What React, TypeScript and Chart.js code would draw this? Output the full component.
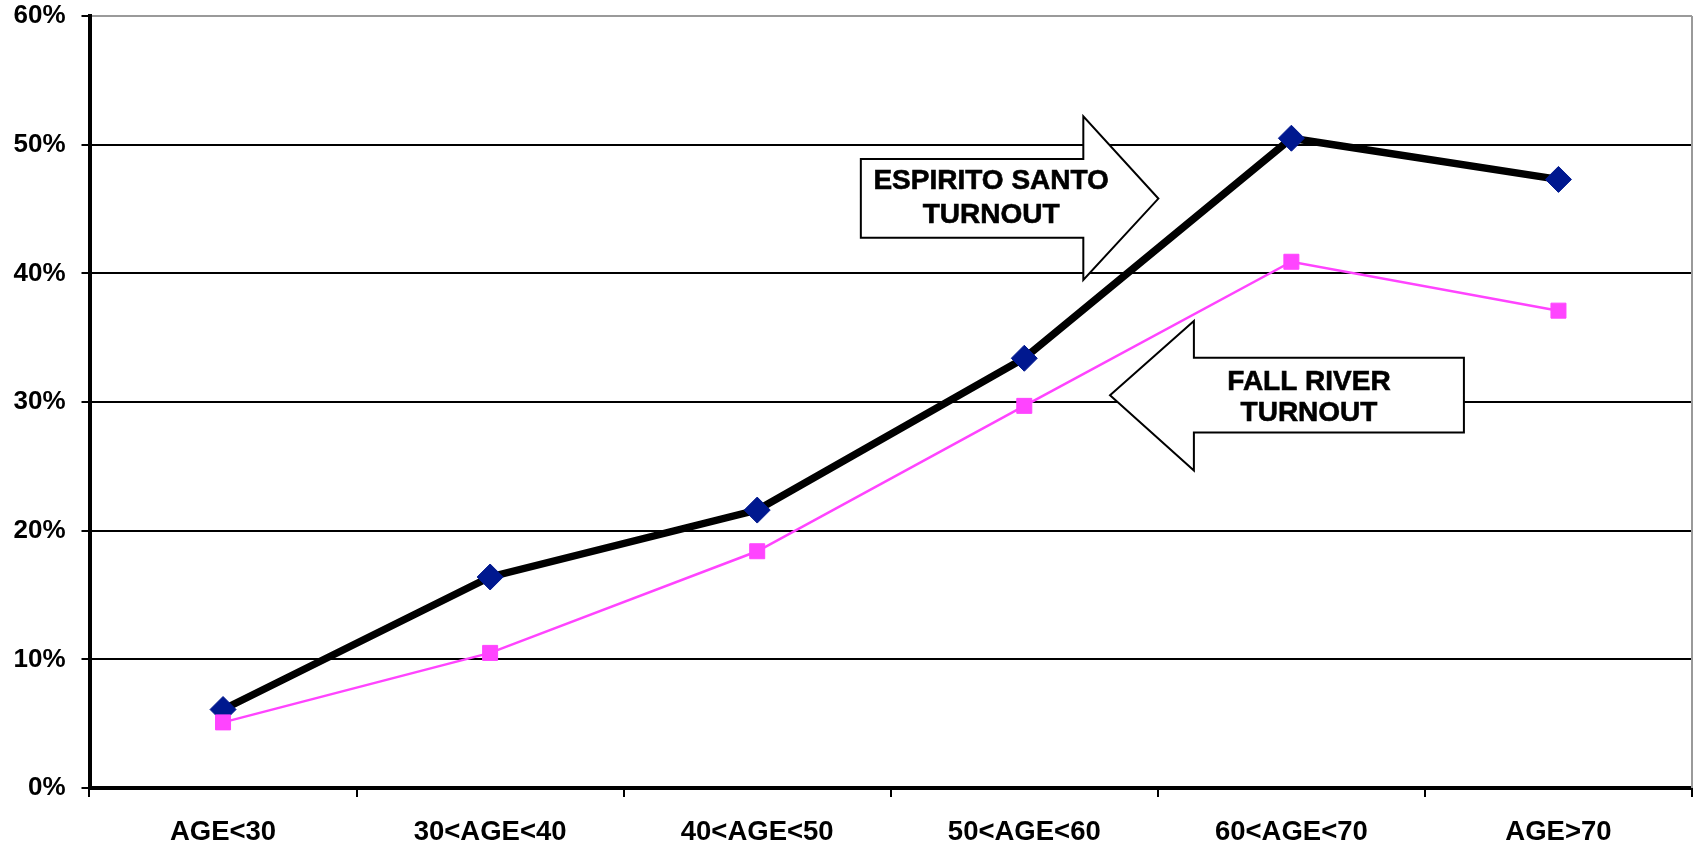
import React, { useEffect, useRef } from "react";
import { Chart, registerables } from "chart.js";

Chart.register(...registerables);

// ---- data ----
const categories = ["AGE<30", "30<AGE<40", "40<AGE<50", "50<AGE<60", "60<AGE<70", "AGE>70"];
const espiritoSanto = [6.1, 16.4, 21.6, 33.4, 50.5, 47.3];
const fallRiver = [5.1, 10.5, 18.4, 29.7, 40.9, 37.1];
const yMin = 0;
const yMax = 60;
const yStep = 10;

// ---- annotation texts ----
const espiritoLabel = ["ESPIRITO SANTO", "TURNOUT"];
const fallRiverLabel = ["FALL RIVER", "TURNOUT"];

// annotation geometry in data units (x: category index, y: percent)
const espiritoArrow = { bodyLeft: 2.388, headBase: 3.221, tip: 3.502, bodyTop: 48.88, bodyBottom: 42.77, headTop: 52.2, headBottom: 39.49, tipY: 45.81 };
const espiritoText = { x: 2.876, y: [47.29, 44.71] };
const fallArrow = { tip: 3.321, tipY: 30.53, headBase: 3.635, headTop: 36.3, headBottom: 24.68, bodyRight: 4.646, bodyTop: 33.44, bodyBottom: 27.62 };
const fallText = { x: 4.066, y: [31.7, 29.27] };

const FONT = "'Liberation Sans', Arial, Helvetica, sans-serif";

const annotationPlugin = {
  id: "arrowAnnotations",
  beforeDatasetsDraw(chart: any) {
    const { ctx, chartArea, scales } = chart;
    const xs = scales.x;
    const ys = scales.y;
    const px = (v: number) => xs.getPixelForValue(v);
    const py = (v: number) => ys.getPixelForValue(v);
    ctx.save();
    // plot-area right border
    ctx.strokeStyle = "#9a9a9a";
    ctx.lineWidth = 2;
    ctx.beginPath();
    ctx.moveTo(chartArea.right, chartArea.top);
    ctx.lineTo(chartArea.right, chartArea.bottom);
    ctx.stroke();

    const drawPoly = (pts: [number, number][]) => {
      ctx.beginPath();
      pts.forEach(([a, b], i) => (i === 0 ? ctx.moveTo(px(a), py(b)) : ctx.lineTo(px(a), py(b))));
      ctx.closePath();
      ctx.fillStyle = "#ffffff";
      ctx.fill();
      ctx.strokeStyle = "#000000";
      ctx.lineWidth = 2;
      ctx.lineJoin = "miter";
      ctx.stroke();
    };
    const e = espiritoArrow;
    drawPoly([
      [e.bodyLeft, e.bodyTop],
      [e.headBase, e.bodyTop],
      [e.headBase, e.headTop],
      [e.tip, e.tipY],
      [e.headBase, e.headBottom],
      [e.headBase, e.bodyBottom],
      [e.bodyLeft, e.bodyBottom],
    ]);
    const f = fallArrow;
    drawPoly([
      [f.tip, f.tipY],
      [f.headBase, f.headTop],
      [f.headBase, f.bodyTop],
      [f.bodyRight, f.bodyTop],
      [f.bodyRight, f.bodyBottom],
      [f.headBase, f.bodyBottom],
      [f.headBase, f.headBottom],
    ]);

    ctx.fillStyle = "#000000";
    ctx.strokeStyle = "#000000";
    ctx.lineWidth = 0.6;
    ctx.font = `bold 28px ${FONT}`;
    ctx.textAlign = "center";
    ctx.textBaseline = "alphabetic";
    const txt = (t: string, x: number, y: number) => {
      ctx.fillText(t, x, y);
      ctx.strokeText(t, x, y);
    };
    espiritoLabel.forEach((t, i) => txt(t, px(espiritoText.x), py(espiritoText.y[i]) + 9.8));
    fallRiverLabel.forEach((t, i) => txt(t, px(fallText.x), py(fallText.y[i]) + 9.8));
    ctx.restore();
  },
};

export default function App() {
  const canvasRef = useRef<HTMLCanvasElement | null>(null);

  useEffect(() => {
    if (!canvasRef.current) return;
    const chart = new Chart(canvasRef.current, {
      type: "line",
      data: {
        labels: categories,
        datasets: [
          {
            label: "Espirito Santo",
            data: espiritoSanto,
            borderColor: "#000000",
            borderWidth: 7.5,
            pointStyle: "rectRot",
            pointRadius: 13,
            pointBackgroundColor: "#00188f",
            pointBorderColor: "#00188f",
            pointBorderWidth: 1,
            tension: 0,
            order: 2,
          },
          {
            label: "Fall River",
            data: fallRiver,
            borderColor: "#ff44ff",
            borderWidth: 2.5,
            pointStyle: "rect",
            pointRadius: 10.6,
            pointBackgroundColor: "#ff44ff",
            pointBorderColor: "#ff44ff",
            pointBorderWidth: 1,
            tension: 0,
            order: 1,
          },
        ],
      },
      options: {
        responsive: false,
        animation: false,
        layout: { autoPadding: false, padding: { top: 16, right: 3, left: 0, bottom: 0 } },
        plugins: {
          legend: { display: false },
          tooltip: { enabled: false },
        },
        scales: {
          x: {
            type: "category",
            offset: true,
            grid: {
              offset: true,
              drawOnChartArea: false,
              drawTicks: true,
              tickLength: 9,
              color: "#000000",
              lineWidth: 2,
            },
            border: { display: true, color: "#000000", width: 4 },
            ticks: {
              color: "#000000",
              font: { family: FONT, size: 27.5, weight: "bold" },
              padding: 19,
              maxRotation: 0,
              autoSkip: false,
            },
            afterFit: (scale: any) => {
              scale.height = 61;
              scale.paddingLeft = 0;
              scale.paddingRight = 0;
            },
          },
          y: {
            min: yMin,
            max: yMax,
            ticks: {
              stepSize: yStep,
              color: "#000000",
              font: { family: FONT, size: 26, weight: "bold" },
              padding: 16,
              callback: (v: any) => `${v}%`,
            },
            grid: {
              color: (c: any) => (c.tick && c.tick.value === yMax ? "#9a9a9a" : "#000000"),
              tickColor: "#000000",
              lineWidth: 2,
              tickLength: 8,
              drawTicks: true,
            },
            border: { display: true, color: "#000000", width: 4 },
            afterFit: (scale: any) => {
              scale.width = 89.5;
              scale.paddingTop = 0;
              scale.paddingBottom = 0;
            },
          },
        },
      },
      plugins: [annotationPlugin],
    } as any);
    return () => chart.destroy();
  }, []);

  return (
    <div style={{ position: "fixed", left: 0, top: 0, width: 1695, height: 849, background: "#ffffff", overflow: "hidden" }}>
      <canvas ref={canvasRef} width={1695} height={849} style={{ display: "block" }} />
    </div>
  );
}
